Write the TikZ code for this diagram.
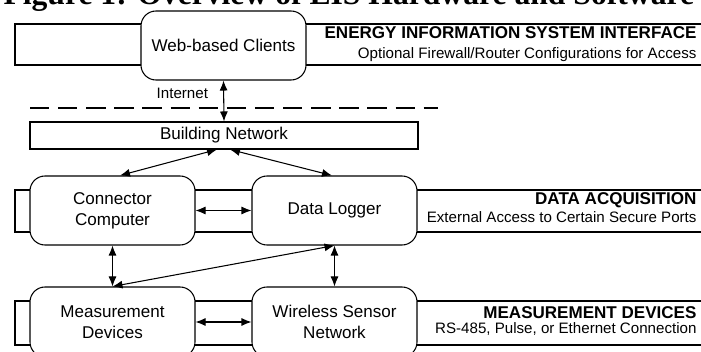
\documentclass[tikz,border=0pt]{standalone}
\usepackage{fontspec}
\setmainfont{Liberation Sans}
\newfontfamily\captionserif{Liberation Serif}
\usetikzlibrary{%
  arrows.meta,%
  positioning,% wg. " of "
  calc%
}

\begin{document}
\begin{tikzpicture}[
  font=\fontsize{9.7}{12}\selectfont,
  >={Latex[length=2mm,width=1.6mm]},
  line width=0.6pt,
  unit/.style={draw,fill=white,rounded corners=0.3cm,minimum width=3.3cm,
    minimum height=1.38cm,align=center,inner sep=0pt},
  band/.style={draw,fill=white},
  bandtitle/.style={anchor=east,inner sep=0pt,font=\fontsize{9.7}{12}\selectfont\bfseries},
  bandnote/.style={anchor=east,inner sep=0pt,font=\fontsize{8.6}{10}\selectfont},
]

\useasboundingbox (0,0) rectangle (14.02,7.04);
\clip (0,0) rectangle (14.02,7.04);

% caption, cut off by the page
\node[anchor=base west,inner sep=0pt,
  font=\captionserif\fontsize{18}{20}\selectfont\bfseries] (caption) at (0.06,6.94)
  {Figure 1: Overview of EIS Hardware and Software};

% layers
\foreach \ytop/\ybot in {6.56/5.74,3.24/2.40,1.02/0.14} {
  \draw[band] (0.3,\ytop) rectangle (14.2,\ybot);
}
\node[bandtitle] (ltop) at (13.94,6.38) {ENERGY INFORMATION SYSTEM INTERFACE};
\node[bandnote] (ntop) at (13.94,5.94) {Optional Firewall/Router Configurations for Access};
\node[bandtitle] (lmid) at (13.94,3.04) {DATA ACQUISITION};
\node[bandnote] (nmid) at (13.94,2.70) {External Access to Certain Secure Ports};
\node[bandtitle] (lbot) at (13.94,0.78) {MEASUREMENT DEVICES};
\node[bandnote] (nbot) at (13.94,0.46) {RS-485, Pulse, or Ethernet Connection};

\node[unit] (web) at (4.47,6.13) {Web-based Clients};

\draw[line width=1.4pt,dash pattern=on 11pt off 5pt] (0.6,4.88) -- (8.75,4.88);
\node[anchor=east,inner sep=0pt,font=\fontsize{8.6}{10}\selectfont] (inet) at (4.17,5.18) {Internet};

\node[draw,minimum width=7.76cm,minimum height=0.54cm,inner sep=0pt] (bn) at (4.48,4.33) {Building Network};

\node[unit] (cc) at (2.25,2.83) {Connector\\Computer};
\node[unit] (dl) at (6.69,2.83) {Data Logger};
\node[unit,minimum height=1.4cm] (md) at (2.25,0.60) {Measurement\\Devices};
\node[unit,minimum height=1.4cm] (wsn) at (6.69,0.60) {Wireless Sensor\\Network};

\draw[<->] (web.south) -- (bn.north);
\draw[<->] ([xshift=-0.14cm]bn.south) -- ([xshift=0.15cm]cc.north);
\draw[<->] ([xshift=0.12cm]bn.south) -- ([xshift=-0.05cm]dl.north);
\draw[<->] (cc.east) -- (dl.west);
\draw[<->] (cc.south) -- (md.north);
\draw[<->] (dl.south) -- (wsn.north);
\draw[<->] (dl.south) -- (md.north);
\draw[<->] (md.east) -- (wsn.west);
\end{tikzpicture}
\end{document}
